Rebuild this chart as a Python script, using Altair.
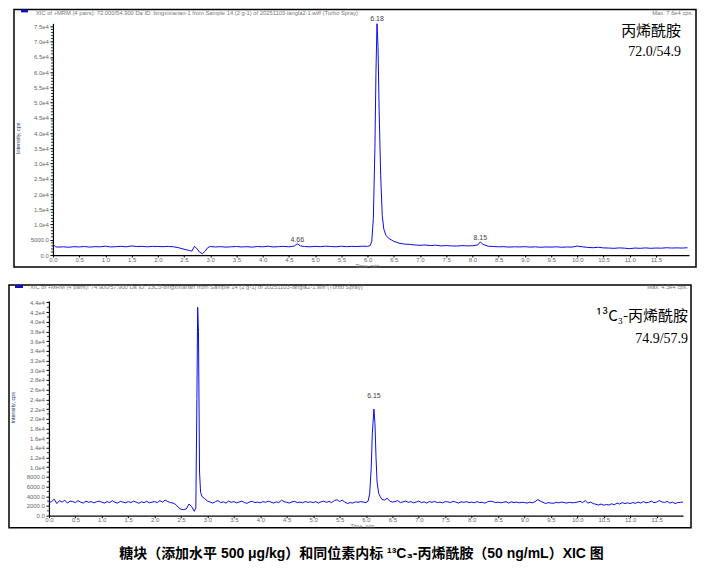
import altair as alt
import pandas as pd

# ---------------- data ----------------
# Top panel: acrylamide 72.0/54.9 (time in min, intensity in cps)
top_t = [0.0, 0.05, 0.1, 0.2, 0.3, 0.4, 0.5, 0.6, 0.7, 0.8, 0.9, 1.0, 1.1, 1.2, 1.3, 1.4, 1.5, 1.6, 1.7, 1.8, 1.9,
         2.0, 2.1, 2.2, 2.3, 2.4, 2.5, 2.6, 2.65, 2.7, 2.75, 2.8, 2.85, 2.9, 2.95,
         3.0, 3.1, 3.2, 3.3, 3.4, 3.5, 3.6, 3.7, 3.8, 3.9, 4.0, 4.1, 4.2, 4.3, 4.4, 4.5, 4.6, 4.66, 4.72, 4.8, 4.9,
         5.0, 5.1, 5.2, 5.3, 5.4, 5.5, 5.6, 5.7, 5.8, 5.9, 6.0, 6.05, 6.08, 6.11, 6.14, 6.16, 6.18, 6.2, 6.22, 6.25,
         6.28, 6.31, 6.35, 6.4, 6.45, 6.5, 6.6, 6.7, 6.8, 6.9, 7.0, 7.1, 7.2, 7.3, 7.4, 7.5, 7.6, 7.7, 7.8, 7.9,
         8.0, 8.1, 8.15, 8.2, 8.3, 8.4, 8.5, 8.6, 8.7, 8.8, 8.9, 9.0, 9.1, 9.2, 9.3, 9.4, 9.5, 9.6, 9.7, 9.8, 9.9,
         10.0, 10.1, 10.2, 10.3, 10.4, 10.5, 10.6, 10.7, 10.8, 10.9, 11.0, 11.1, 11.2, 11.3, 11.4, 11.5, 11.6, 11.7,
         11.8, 11.9, 12.0, 12.1]
top_i = [3600, 2700, 2600, 2700, 2550, 2750, 2650, 2800, 2600, 2750, 2700, 2900, 2650, 2750, 2850, 2700, 3000, 2800, 2850, 2700, 2850,
         2800, 2750, 2850, 2700, 2400, 1900, 1500, 1300, 2900, 2000, 900, 450, 1200, 2400,
         2800, 2650, 2750, 2600, 2700, 2800, 2650, 2750, 2600, 2800, 2700, 2900, 2650, 2750, 2850, 2700, 2950, 3700, 3000, 2800, 2700,
         2850, 2750, 2900, 2800, 2700, 2900, 2750, 2850, 2800, 2900, 2850, 3100, 4500, 12000, 35000, 60000, 76000, 68000, 48000, 26000,
         13000, 8500, 6500, 5500, 5000, 4500, 3900, 3600, 3500, 3300, 3200, 3300, 3100, 3250, 3000, 3100, 3000, 2950, 3100, 3000,
         3050, 3300, 4300, 3500, 2900, 2800, 2700, 2750, 2600, 2700, 2650, 2750, 2600, 2700, 2550, 2650, 2600, 2700, 2550, 2650, 2600,
         2950, 2700, 2500, 2400, 2550, 2350, 2300, 2200, 2350, 2250, 2100, 2300, 2200, 2350, 2200, 2300, 2250, 2400,
         2300, 2350, 2300, 2400]

# Bottom panel: 13C3-acrylamide 74.9/57.9
bot_t = [0.00, 0.05, 0.10, 0.15, 0.20, 0.25, 0.30, 0.35, 0.40, 0.45, 0.50, 0.55, 0.60, 0.65, 0.70, 0.75, 0.80, 0.85, 0.90, 0.95,
         1.00, 1.05, 1.10, 1.15, 1.20, 1.25, 1.30, 1.35, 1.40, 1.45, 1.50, 1.55, 1.60, 1.65, 1.70, 1.75, 1.80, 1.85, 1.90, 1.95,
         2.00, 2.05, 2.10, 2.15, 2.20, 2.25, 2.30, 2.35, 2.40, 2.45, 2.50, 2.55, 2.60, 2.65, 2.70, 2.75,
         2.78, 2.80, 2.815, 2.83, 2.85, 2.87, 2.90, 2.95, 3.00,
         3.05, 3.10, 3.15, 3.20, 3.25, 3.30, 3.35, 3.40, 3.45, 3.50, 3.55, 3.60, 3.65, 3.70, 3.75, 3.80, 3.85, 3.90, 3.95,
         4.00, 4.05, 4.10, 4.15, 4.20, 4.25, 4.30, 4.35, 4.40, 4.45, 4.50, 4.55, 4.60, 4.65, 4.70, 4.75, 4.80, 4.85, 4.90, 4.95,
         5.00, 5.05, 5.10, 5.15, 5.20, 5.25, 5.30, 5.35, 5.40, 5.45, 5.50, 5.55, 5.60, 5.65, 5.70, 5.75, 5.80, 5.85, 5.90, 5.95,
         6.00, 6.04, 6.07, 6.10, 6.12, 6.15, 6.17, 6.19, 6.21, 6.24, 6.27, 6.30, 6.35, 6.40, 6.45, 6.50,
         6.55, 6.60, 6.65, 6.70, 6.75, 6.80, 6.85, 6.90, 6.95, 7.00, 7.05, 7.10, 7.15, 7.20, 7.25, 7.30, 7.35, 7.40, 7.45, 7.50,
         7.55, 7.60, 7.65, 7.70, 7.75, 7.80, 7.85, 7.90, 7.95,
         8.00, 8.05, 8.10, 8.15, 8.20, 8.25, 8.30, 8.35, 8.40, 8.45, 8.50, 8.55, 8.60, 8.65, 8.70, 8.75, 8.80, 8.85, 8.90, 8.95,
         9.00, 9.05, 9.10, 9.15, 9.20, 9.25, 9.30, 9.35, 9.40, 9.45, 9.50, 9.55, 9.60, 9.65, 9.70, 9.75, 9.80, 9.85, 9.90, 9.95,
         10.00, 10.05, 10.10, 10.15, 10.20, 10.25, 10.30, 10.35, 10.40, 10.45, 10.50, 10.55, 10.60, 10.65, 10.70, 10.75, 10.80, 10.85, 10.90, 10.95,
         11.00, 11.05, 11.10, 11.15, 11.20, 11.25, 11.30, 11.35, 11.40, 11.45, 11.50, 11.55, 11.60, 11.65, 11.70, 11.75, 11.80, 11.85, 11.90, 11.95, 12.00]
bot_i = [2700, 2900, 3400, 2500, 3100, 2800, 3200, 2600, 3000, 2900, 2700, 3100, 2800, 2600, 3000, 2750, 2900, 2650, 2850, 3000,
         2800, 2600, 2900, 2700, 3100, 2750, 2600, 2950, 2800, 2650, 2900, 2700, 3000, 2800, 2550, 2850, 2700, 2950, 2650, 2800,
         2900, 2700, 3100, 2800, 3200, 2900, 2700, 2600, 2300, 1700, 1300, 1250, 1400, 2400, 1900, 900,
         1600, 24000, 43000, 38000, 9000, 4800, 3900, 3500, 3000,
         2800, 2600, 2900, 3100, 2700, 2850, 2600, 3000, 2750, 2900, 2650, 2800, 3000, 2700, 2550, 2850, 2950, 2700, 2800,
         2650, 2900, 2750, 3000, 2800, 2600, 2850, 2700, 3200, 2900, 2750, 2600, 2850, 2950, 2700, 2800, 2650, 2900, 2750, 2850,
         2700, 2900, 2600, 2850, 3000, 2750, 2950, 2700, 3100, 3300, 2900, 3200, 2800, 2500, 2700, 2600, 2850, 2750, 2900, 2800,
         2700, 3000, 4500, 10000, 17000, 22000, 19000, 12000, 7000, 4600, 3900, 3400, 3200, 3600, 3000, 2800,
         2900, 3100, 2700, 2850, 3000, 2750, 2900, 2650, 2800, 3000, 2700, 2850, 2600, 2900, 2750, 2950, 2700, 2800, 2650, 2900,
         2850, 2700, 2950, 2800, 2600, 2850, 2750, 2900, 2700,
         2800, 2650, 2900, 2700, 2750, 2600, 2850, 3000, 2900, 2700, 2800, 2650, 2750, 2900, 2600, 2850, 2700, 2800, 2650, 2750,
         2700, 2600, 2800, 2650, 2900, 3300, 3000, 2750, 2500, 2700, 2600, 2550, 2750, 2650, 2800, 2700, 2600, 2750, 2650, 2700,
         2800, 2950, 2700, 3100, 2600, 2800, 2500, 2350, 2200, 2400, 2150, 2300, 2200, 2450, 2250, 2600, 2400, 2700, 2500, 2650,
         2500, 2700, 2550, 2800, 2600, 2900, 2650, 2750, 3000, 2700, 2800, 3100, 2850, 2700, 2950, 2600, 2800, 2500, 2700, 2750, 2800]

assert len(top_t) == len(top_i), (len(top_t), len(top_i))
assert len(bot_t) == len(bot_i), (len(bot_t), len(bot_i))

top_peak_t = [4.66, 6.18, 8.15]
top_peak_i = [3700, 76000, 4300]
top_peak_lab = ["4.66", "6.18", "8.15"]
bot_peak_t = [6.15]
bot_peak_i = [22000]
bot_peak_lab = ["6.15"]

x_ticks = [0.0, 0.5, 1.0, 1.5, 2.0, 2.5, 3.0, 3.5, 4.0, 4.5, 5.0, 5.5, 6.0, 6.5, 7.0, 7.5, 8.0, 8.5, 9.0,
           9.5, 10.0, 10.5, 11.0, 11.5]
top_y_ticks = [0, 5000, 10000, 15000, 20000, 25000, 30000, 35000, 40000, 45000, 50000, 55000, 60000,
               65000, 70000, 75000]
top_y_minor = [1000, 2000, 3000, 4000, 6000, 7000, 8000, 9000, 11000, 12000, 13000, 14000, 16000, 17000, 18000,
               19000, 21000, 22000, 23000, 24000, 26000, 27000, 28000, 29000, 31000, 32000, 33000, 34000, 36000,
               37000, 38000, 39000, 41000, 42000, 43000, 44000, 46000, 47000, 48000, 49000, 51000, 52000, 53000,
               54000, 56000, 57000, 58000, 59000, 61000, 62000, 63000, 64000, 66000, 67000, 68000, 69000, 71000,
               72000, 73000, 74000]
bot_y_ticks = [0, 2000, 4000, 6000, 8000, 10000, 12000, 14000, 16000, 18000, 20000, 22000, 24000, 26000,
               28000, 30000, 32000, 34000, 36000, 38000, 40000, 42000, 44000]
bot_y_minor = [1000, 3000, 5000, 7000, 9000, 11000, 13000, 15000, 17000, 19000, 21000, 23000, 25000, 27000,
               29000, 31000, 33000, 35000, 37000, 39000, 41000, 43000]

top_header = "XIC of +MRM (4 pairs): 72.000/54.900 Da ID: bingxixianan-1 from Sample 14 (2 g-1) of 20251103-langla2-1.wiff (Turbo Spray)"
bot_header = "XIC of +MRM (4 pairs): 74.900/57.900 Da ID: 13C3-bingxixianan from Sample 14 (2 g-1) of 20251103-langla2-1.wiff (Turbo Spray)"
top_max = "Max. 7.6e4 cps."
bot_max = "Max. 4.3e4 cps."
top_name = "丙烯酰胺"
top_mrm = "72.0/54.9"
bot_name = "¹³C₃-丙烯酰胺"
bot_mrm = "74.9/57.9"
caption = "糖块（添加水平 500 μg/kg）和同位素内标 ¹³C₃-丙烯酰胺（50 ng/mL）XIC 图"

# ---------------- styling ----------------
BLUE = "#0a0aee"
LBL = "#666666"
SANS = "Liberation Sans"
CJK = "Noto Sans CJK SC"
LABEL_EXPR = "datum.value == 0 ? '0.0' : (datum.value < 10000 ? format(datum.value, '.1f') : format(datum.value / 10000, '.1f') + 'e4')"

W_TOP, H_TOP = 641, 232
W_BOT, H_BOT = 635, 215


def one():
    return alt.Chart(pd.DataFrame({"k": [0]}))


def panel(t, inten, pk_t, pk_i, pk_lab, minor, *, width, height, xdom, xrange, ydom, yticks, yoffset, pk_dy,
          frame, legend_box, header, header_pos, maxtxt, max_pos, name, name_pos, mrm, mrm_pos,
          ytitle_pos, xtitle_pos, extra=None):
    df = pd.DataFrame({"t": t, "i": inten})
    X = alt.X("t:Q", scale=alt.Scale(domain=xdom, range=xrange, nice=False, zero=False),
              axis=alt.Axis(values=x_ticks, format=".1f", title=None, labelFontSize=6, labelFont=SANS,
                            labelColor=LBL, tickSize=2, tickColor="black", domainColor="black",
                            domainWidth=1.2, labelPadding=-1, labelFlush=False, labelOverlap=False, grid=False))
    Y = alt.Y("i:Q", scale=alt.Scale(domain=ydom, nice=False, zero=True),
              axis=alt.Axis(values=yticks, labelExpr=LABEL_EXPR, title=None, labelFontSize=6, labelFont=SANS,
                            labelColor=LBL, tickSize=3, tickColor="black", domainColor="black", domainWidth=1.2,
                            labelPadding=1.5, offset=yoffset, labelOverlap=False, grid=False))
    line = alt.Chart(df).mark_line(color=BLUE, strokeWidth=1, clip=True).encode(x=X, y=Y)
    ax_x = -yoffset
    mn = alt.Chart(pd.DataFrame({"i": minor})).mark_rule(color="black", strokeWidth=0.8).encode(
        x=alt.value(ax_x - 2), x2=alt.value(ax_x), y=Y)
    pk = alt.Chart(pd.DataFrame({"t": pk_t, "i": pk_i, "lab": pk_lab})).mark_text(
        fontSize=7, font=SANS, color="#444444", dy=pk_dy, baseline="middle").encode(x=X, y=Y, text="lab:N")
    fr = one().mark_rect(fillOpacity=0, stroke="black", strokeWidth=1.5).encode(
        x=alt.value(frame[0]), x2=alt.value(frame[1]), y=alt.value(frame[2]), y2=alt.value(frame[3]))
    lb = one().mark_rect(color="#1010cc").encode(
        x=alt.value(legend_box[0]), x2=alt.value(legend_box[1]), y=alt.value(legend_box[2]), y2=alt.value(legend_box[3]))
    hd = one().mark_text(text=header, align="left", baseline="middle", fontSize=5.8, font=SANS, color="#777777").encode(
        x=alt.value(header_pos[0]), y=alt.value(header_pos[1]))
    mx = one().mark_text(text=maxtxt, align="right", baseline="middle", fontSize=5.8, font=SANS, color="#777777").encode(
        x=alt.value(max_pos[0]), y=alt.value(max_pos[1]))
    nm = one().mark_text(text=name, align="right", baseline="middle", fontSize=15, font=f"{CJK}, Liberation Serif",
                         color="black").encode(x=alt.value(name_pos[0]), y=alt.value(name_pos[1]))
    mr = one().mark_text(text=mrm, align="right", baseline="middle", fontSize=14, font="Liberation Serif",
                         color="black").encode(x=alt.value(mrm_pos[0]), y=alt.value(mrm_pos[1]))
    yt = one().mark_text(text="Intensity, cps", angle=270, align="center", baseline="middle", fontSize=5.5,
                         font=SANS, color="#223366").encode(x=alt.value(ytitle_pos[0]), y=alt.value(ytitle_pos[1]))
    xt = one().mark_text(text="Time, min", align="left", baseline="middle", fontSize=5.5, font=SANS,
                         color="#777777").encode(x=alt.value(xtitle_pos[0]), y=alt.value(xtitle_pos[1]))
    layers = [fr, line, mn, pk, lb, hd, mx, nm, mr, yt, xt]
    if extra is not None:
        layers.append(extra)
    return alt.layer(*layers).properties(width=width, height=height)


top = panel(top_t, top_i, top_peak_t, top_peak_i, top_peak_lab, top_y_minor,
            width=W_TOP, height=H_TOP, xdom=[0, 12.13], xrange=[4, W_TOP], ydom=[0, 76000], yticks=top_y_ticks,
            yoffset=-4, pk_dy=-4,
            frame=(-35, 648, -14, 244), legend_box=(-28, -21, -14, -11),
            header=top_header, header_pos=(-13, -10.5), maxtxt=top_max, max_pos=(645, -10.5),
            name=top_name, name_pos=(633, 8), mrm=top_mrm, mrm_pos=(633, 29),
            ytitle_pos=(-31, 115), xtitle_pos=(307, 242.5))

cap = one().mark_text(text=caption, align="center", baseline="middle", fontSize=14, fontWeight="bold",
                      font=f"{SANS}, {CJK}", color="black").encode(x=alt.value(313), y=alt.value(253))

bottom = panel(bot_t, bot_i, bot_peak_t, bot_peak_i, bot_peak_lab, bot_y_minor,
               width=W_BOT, height=H_BOT, xdom=[0, 12.0], xrange=[0, W_BOT], ydom=[0, 44300], yticks=bot_y_ticks,
               yoffset=0, pk_dy=-13,
               frame=(-40, 643, -16, 227), legend_box=(-34, -26, -16, -13),
               header=bot_header, header_pos=(-19, -13.5), maxtxt=bot_max, max_pos=(640, -13.5),
               name=bot_name, name_pos=(640, 15), mrm=bot_mrm, mrm_pos=(640, 38),
               ytitle_pos=(-36, 107), xtitle_pos=(302, 225.5), extra=cap)

chart = alt.vconcat(top, bottom, spacing=46, bounds="flush").properties(padding=0).configure_view(
    strokeWidth=0).configure_axis(grid=False)

chart.save("out.html", embed_options={"renderer": "svg", "actions": False})
